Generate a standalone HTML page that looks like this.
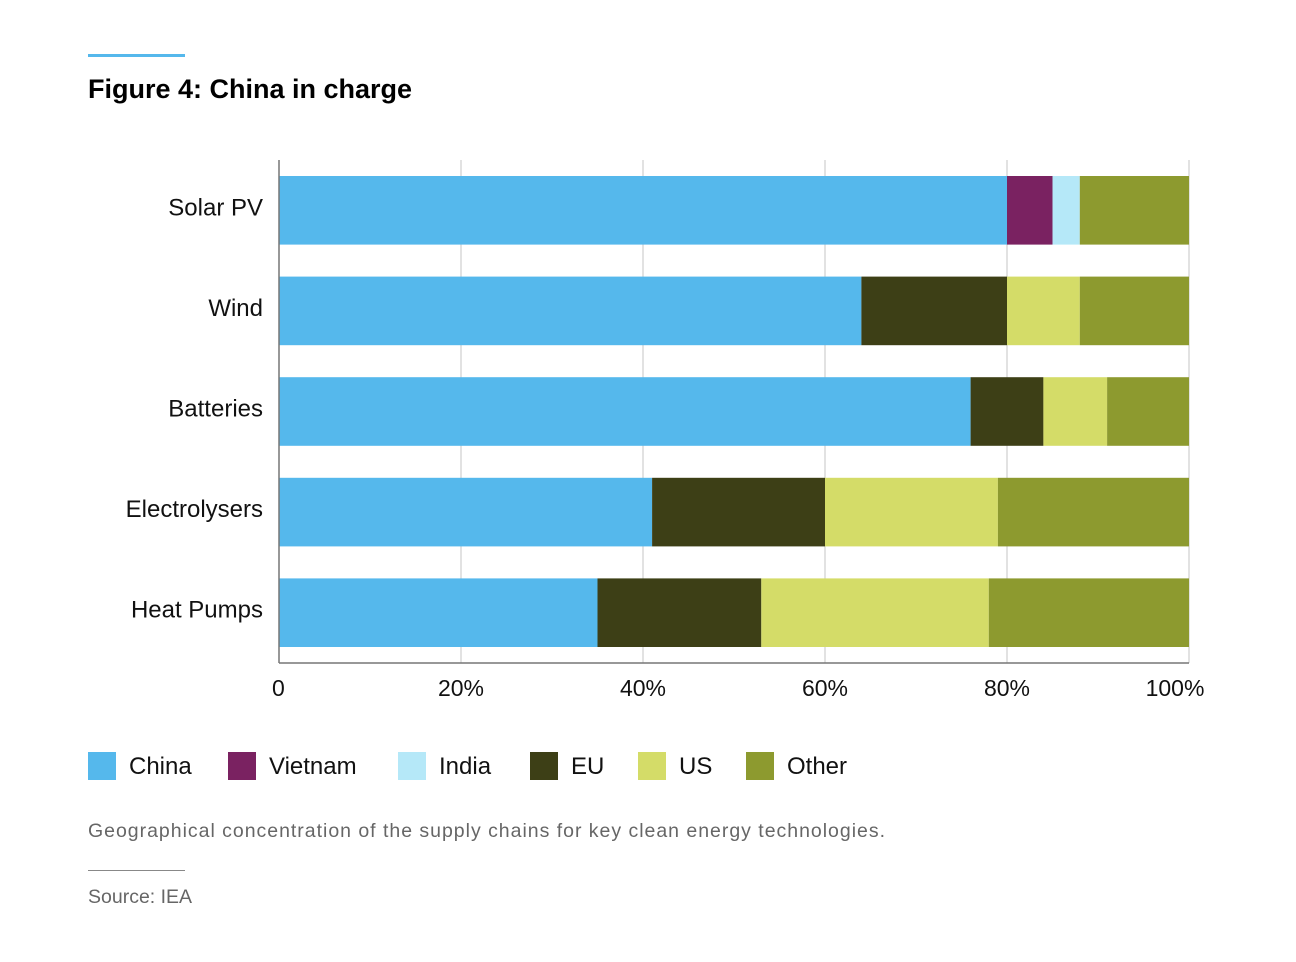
<!DOCTYPE html>
<html><head><meta charset="utf-8"><style>
body{margin:0;width:1296px;height:962px;background:#fff;font-family:"Liberation Sans",sans-serif;position:relative;overflow:hidden}
.abs{position:absolute}
</style></head><body>
<div class="abs" style="left:88px;top:54px;width:97px;height:3px;background:#55b8ec"></div>
<div class="abs" style="left:88px;top:74px;font-size:27px;font-weight:bold;color:#000">Figure 4: China in charge</div>
<svg class="abs" style="left:0;top:0" width="1296" height="740" id="chart"></svg>
<div class="abs" id="legend" style="left:0;top:750px;width:1296px;height:34px"></div>
<div class="abs" style="left:88px;top:820px;font-size:19.5px;color:#666;letter-spacing:0.98px">Geographical concentration of the supply chains for key clean energy technologies.</div>
<div class="abs" style="left:88px;top:870px;width:97px;height:1px;background:#888"></div>
<div class="abs" style="left:88px;top:886px;font-size:19.5px;color:#666">Source: IEA</div>
<script>
const categories=["Solar PV","Wind","Batteries","Electrolysers","Heat Pumps"];
const seriesNames=["China","Vietnam","India","EU","US","Other"];
const china=[80,64,76,41,35];
const vietnam=[5,0,0,0,0];
const india=[3,0,0,0,0];
const eu=[0,16,8,19,18];
const us=[0,8,7,19,25];
const other=[12,12,9,21,22];
const ticks=[0,20,40,60,80,100];
const tickLabels=["0","20%","40%","60%","80%","100%"];
const colors=["#55b8ec","#7a2261","#b5e8f8","#3d3f16","#d4dc68","#8d9a2f"];
const series=[china,vietnam,india,eu,us,other];
const NS="http://www.w3.org/2000/svg";
const svg=document.getElementById('chart');
const x0=279,x1=1189,yTop=160,yBot=663;
const xs=v=>x0+(x1-x0)*v/100;
const band=(yBot-yTop)/categories.length;
function mk(t,a){const e=document.createElementNS(NS,t);for(const k in a)e.setAttribute(k,a[k]);svg.appendChild(e);return e;}
ticks.forEach((t,i)=>{
 if(i>0){const g=mk('line',{x1:xs(t),x2:xs(t),y1:yTop,y2:yBot,stroke:'#d8d8d8','stroke-width':1.5});
 
 }
 const tx=mk('text',{x:xs(t),y:696,'text-anchor':i==0?'start':'middle','font-size':23,fill:'#111','font-family':'Liberation Sans, sans-serif'});
 if(i==0)tx.setAttribute('x',xs(t)-7);
 if(i==ticks.length-1)tx.setAttribute('x',xs(t)-14);
 tx.textContent=tickLabels[i];
 
 
});
categories.forEach((c,i)=>{
 const y=yTop+band*i+16,h=band-32;
 let acc=0;
 series.forEach((s,j)=>{
  const v=s[i];if(!v)return;
  const r=mk('rect',{x:xs(acc),y:y,width:xs(acc+v)-xs(acc),height:h,fill:colors[j]});
  
  
  acc+=v;
 });
 const t=mk('text',{x:263,y:y+h/2+5,'text-anchor':'end','font-size':24,fill:'#111','font-family':'Liberation Sans, sans-serif'});
 t.textContent=c;
 
 
});
const ax=mk('line',{x1:x0,x2:x0,y1:yTop,y2:yBot,stroke:'#777','stroke-width':1.5});


const bx=mk('line',{x1:x0,x2:x1,y1:yBot,y2:yBot,stroke:'#777','stroke-width':1.5});


const lg=document.getElementById('legend');
const lx=[88,228,398,530,638,746];
seriesNames.forEach((n,i)=>{
 const sq=document.createElement('div');
 sq.className='abs';sq.style.cssText=`left:${lx[i]}px;top:2px;width:28px;height:28px;background:${colors[i]}`;
 
 
 lg.appendChild(sq);
 const t=document.createElement('div');
 t.className='abs';t.style.cssText=`left:${lx[i]+41}px;top:3px;font-size:24px;color:#111`;
 t.textContent=n;
 
 
 lg.appendChild(t);
});
</script>
</body></html>
